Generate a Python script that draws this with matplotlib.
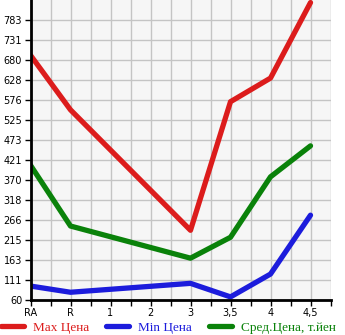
import matplotlib
matplotlib.use("Agg")
import matplotlib.pyplot as plt
import numpy as np

# ---- data ---------------------------------------------------------------
categories = ["RA", "R", "1", "2", "3", "3,5", "4", "4,5"]
data_cats = ["RA", "R", "3", "3,5", "4", "4,5"]
max_price = [692, 551, 240, 572, 633, 828]
min_price = [96, 80, 103, 68, 127, 279]
avg_price = [408, 251, 168, 222, 378, 458]
ytick_vals = [60, 111.6, 163.3, 214.9, 266.6, 318.2, 369.9, 421.5,
              473.1, 524.8, 576.4, 628.1, 679.7, 731.4, 783]
ytick_labels = ["60", "111", "163", "215", "266", "318", "370", "421",
                "473", "525", "576", "628", "680", "731", "783"]

RED, BLUE, GREEN = "#dc1c1c", "#1c1cdc", "#0a820a"

fig = plt.figure(figsize=(3.45, 3.35), dpi=100)
ax = fig.add_axes([30.5 / 345, 1 - 300 / 335, 300 / 345, 300 / 335])
ax.set_facecolor("#f6f6f6")

xpos = [categories.index(c) for c in data_cats]
lw = 3.8
ax.plot(xpos, max_price, color=RED, lw=lw, solid_capstyle="round", label="Max Цена")
ax.plot(xpos, min_price, color=BLUE, lw=lw, solid_capstyle="round", label="Min Цена")
ax.plot(xpos, avg_price, color=GREEN, lw=lw, solid_capstyle="round",
        label="Сред.Цена, т.йен")

ax.set_xlim(0, 7.5)
ax.set_ylim(60, 834.6)
ax.set_xticks(range(len(categories)))
ax.set_xticklabels(categories)
ax.set_xticks(np.arange(0.5, 7.6, 1), minor=True)
ax.set_yticks(ytick_vals)
ax.set_yticklabels(ytick_labels)

ax.grid(True, which="both", color="#c4c4c4", lw=1)
ax.set_axisbelow(True)
for s in ["top", "right"]:
    ax.spines[s].set_visible(False)
for s in ["left", "bottom"]:
    ax.spines[s].set_linewidth(2)
    ax.spines[s].set_color("black")
ax.tick_params(which="both", length=4, width=1, color="black",
               labelsize=7, pad=2)

leg = fig.legend(loc="lower left", bbox_to_anchor=(0.0, 0.0), ncol=3,
                 frameon=False, borderaxespad=0, borderpad=0.1,
                 handlelength=1.7, handletextpad=0.7, columnspacing=1.3,
                 prop={"family": "Liberation Serif", "size": 9.5})
for t, c in zip(leg.get_texts(), [RED, BLUE, GREEN]):
    t.set_color(c)

fig.savefig("out.png", dpi=100)
